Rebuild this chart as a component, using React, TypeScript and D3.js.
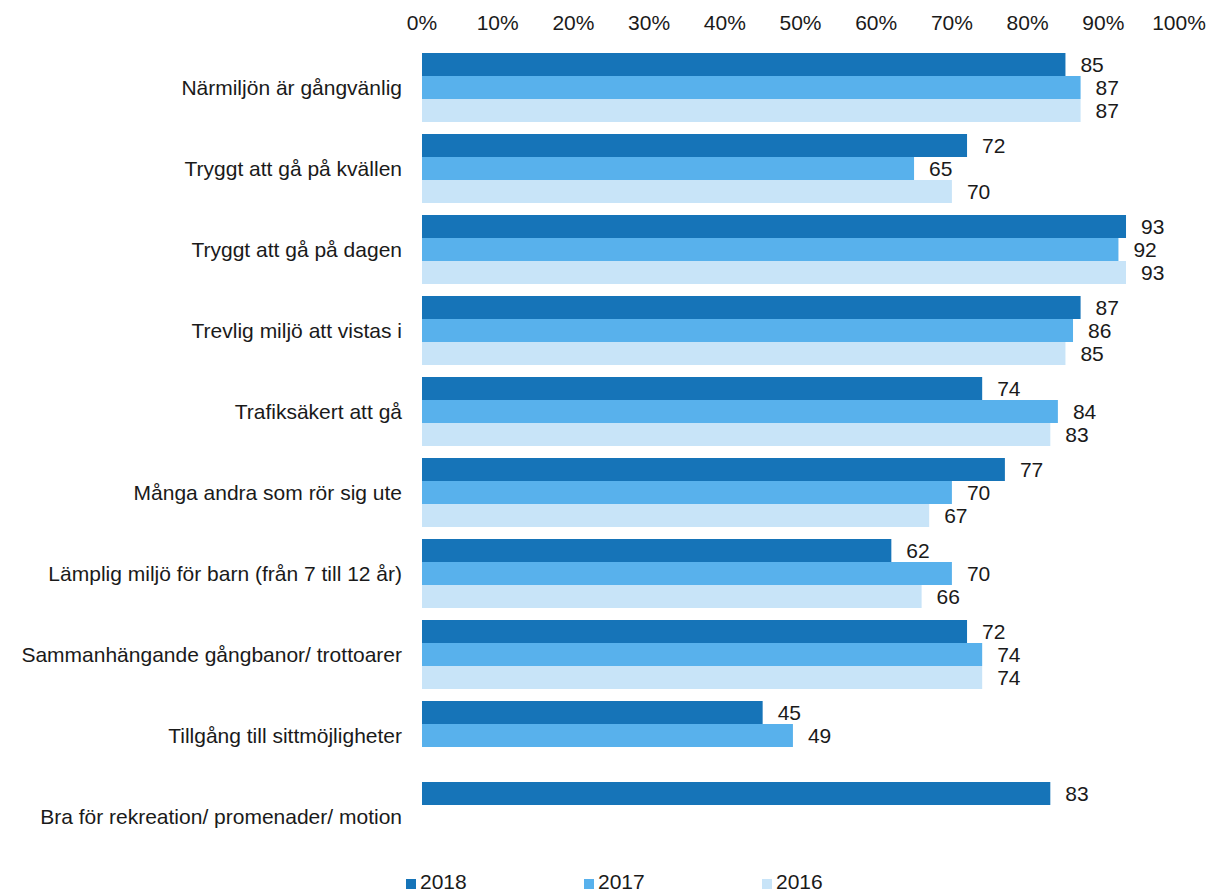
import React from "react";
import * as d3 from "d3";

const categories = [
  "Närmiljön är gångvänlig",
  "Tryggt att gå på kvällen",
  "Tryggt att gå på dagen",
  "Trevlig miljö att vistas i",
  "Trafiksäkert att gå",
  "Många andra som rör sig ute",
  "Lämplig miljö för barn (från 7 till 12 år)",
  "Sammanhängande gångbanor/ trottoarer",
  "Tillgång till sittmöjligheter",
  "Bra för rekreation/ promenader/ motion",
];
const years = ["2018", "2017", "2016"];
const values2018: (number | null)[] = [85, 72, 93, 87, 74, 77, 62, 72, 45, 83];
const values2017: (number | null)[] = [87, 65, 92, 86, 84, 70, 70, 74, 49, null];
const values2016: (number | null)[] = [87, 70, 93, 85, 83, 67, 66, 74, null, null];
const ticks = [0, 10, 20, 30, 40, 50, 60, 70, 80, 90, 100];
const colors = ["#1674b8", "#58b1ec", "#c8e4f8"];

export default function App() {
  const W = 1212, H = 894;
  const x = d3.scaleLinear().domain([0, 100]).range([422, 1179]);
  const y = d3.scaleBand<string>().domain(categories).range([53, 851]).paddingInner(12 / 81).paddingOuter(0);
  const yi = d3.scaleBand<string>().domain(years).range([0, y.bandwidth()]);
  const series = [values2018, values2017, values2016];
  const font = "'Liberation Sans', Arial, sans-serif";
  const legendX = [406, 584, 762];
  const fs = 21;
  return (
    <svg width={W} height={H} style={{ position: "absolute", left: 0, top: 0, display: "block" }} fontFamily={font}>
      <rect width={W} height={H} fill="#fff" />
      {ticks.map((t) => (
        <text key={t} x={x(t)} y={22} fontSize={fs} textAnchor="middle" dominantBaseline="central" fill="#1a1a1a">
          {t}%
        </text>
      ))}
      {categories.map((c, i) => (
        <g key={c}>
          <text x={402} y={(y(c) as number) + y.bandwidth() / 2} fontSize={fs} textAnchor="end" dominantBaseline="central" fill="#1a1a1a">
            {c}
          </text>
          {series.map((s, j) => {
            const v = s[i];
            if (v == null) return null;
            const by = (y(c) as number) + (yi(years[j]) as number);
            return (
              <g key={j}>
                <rect x={x(0)} y={by} width={x(v) - x(0)} height={yi.bandwidth()} fill={colors[j]} />
                <text x={x(v) + 15} y={by + yi.bandwidth() / 2} fontSize={fs} dominantBaseline="central" fill="#1a1a1a">
                  {v}
                </text>
              </g>
            );
          })}
        </g>
      ))}
      {years.map((yr, j) => (
        <g key={yr}>
          <rect x={legendX[j]} y={879} width={10} height={10} fill={colors[j]} />
          <text x={legendX[j] + 14} y={881.5} fontSize={fs} dominantBaseline="central" fill="#1a1a1a">
            {yr}
          </text>
        </g>
      ))}
    </svg>
  );
}
